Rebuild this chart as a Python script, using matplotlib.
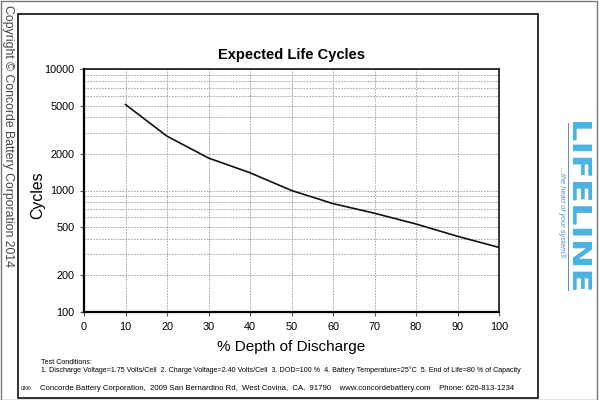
"""Expected life cycles vs depth of discharge (Concorde Lifeline datasheet)."""

import matplotlib.pyplot as plt
from matplotlib.patches import PathPatch, Rectangle
from matplotlib.textpath import TextPath
from matplotlib.font_manager import FontProperties
from matplotlib.transforms import Affine2D
from matplotlib.ticker import FixedLocator, LogLocator, NullFormatter

plt.rcParams["font.family"] = ["Liberation Sans", "DejaVu Sans"]

# data
dod = [10, 20, 30, 40, 50, 60, 70, 80, 90, 100]
cycles = [5100, 2800, 1850, 1400, 1000, 780, 650, 530, 420, 340]

x_ticks = [0, 10, 20, 30, 40, 50, 60, 70, 80, 90, 100]
y_ticks = [100, 200, 500, 1000, 2000, 5000, 10000]

W, H = 599, 400
fig = plt.figure(figsize=(W / 100, H / 100), dpi=100)


def px(x, y):
    """Pixel coords (top-left origin) -> figure fraction."""
    return x / W, 1 - y / H


# page border and inner frame
fig.patches.append(Rectangle((0.5 / W, 0.5 / H), 1 - 3 / W, 1 - 1.5 / H,
                             transform=fig.transFigure, fill=False,
                             edgecolor="#777777", linewidth=1.0))
fig.patches.append(Rectangle(px(18, 398), 520 / W, 384 / H,
                             transform=fig.transFigure, fill=False,
                             edgecolor="#222222", linewidth=1.3))

ax = fig.add_axes([84 / W, 1 - 312 / H, 415 / W, 243 / H])
ax.plot(dod, cycles, color="#111111", linewidth=1.2)

ax.set_yscale("log")
ax.set_xlim(0, 100)
ax.set_ylim(100, 10000)
ax.xaxis.set_major_locator(FixedLocator(x_ticks))
ax.yaxis.set_major_locator(FixedLocator(y_ticks))
ax.yaxis.set_minor_locator(LogLocator(base=10, subs=range(2, 10)))
ax.yaxis.set_minor_formatter(NullFormatter())
ax.set_yticklabels([str(v) for v in y_ticks])
ax.tick_params(axis="both", which="major", labelsize=7.8, length=3, width=0.8,
               color="#555555", pad=4)
ax.tick_params(axis="y", which="minor", length=0)

ax.grid(True, which="major", axis="x", linestyle=(0, (2, 1.5)), color="#999999", linewidth=0.6)
ax.grid(True, which="both", axis="y", linestyle=(0, (2, 1.5)), color="#999999", linewidth=0.6)
for side in ("left", "bottom"):
    ax.spines[side].set_linewidth(1.6)
for side in ("top", "right"):
    ax.spines[side].set_linewidth(1.1)

ax.set_title("Expected Life Cycles", fontsize=10.5, fontweight="bold", pad=7)
ax.set_xlabel("% Depth of Discharge", fontsize=11, labelpad=6)
fig.text(*px(38, 195), "Cycles", rotation=90, ha="center", va="center", fontsize=11.4)

# side copyright
fig.text(*px(8, 5), "Copyright \u00a9 Concorde Battery Corporation 2014",
         rotation=-90, ha="center", va="top", fontsize=8.8, color="#444444")

# test conditions and footer
fig.text(*px(41, 362), "Test Conditions:", fontsize=5.1, va="center")
fig.text(*px(41, 370),
         "1. Discharge Voltage=1.75 Volts/Cell  2. Charge Voltage=2.40 Volts/Cell  "
         "3. DOD=100 %  4. Battery Temperature=25\u00b0C  5. End of Life=80 % of Capacity",
         fontsize=5.1, va="center")
fig.text(*px(21, 389), "0306", fontsize=3.5, va="center")
fig.text(*px(40, 388),
         "Concorde Battery Corporation,  2009 San Bernardino Rd,  West Covina,  CA,  91790    "
         "www.concordebattery.com    Phone: 626-813-1234",
         fontsize=5.6, va="center")

# Lifeline logo: word squeezed into its box (y 122..290, x 573..592), reading downwards
logo = TextPath((0, 0), "LIFELINE", size=10,
                prop=FontProperties(family="DejaVu Sans", weight="bold"))
ext = logo.get_extents()
box_len, box_h = 168, 19
to_px = (Affine2D()
         .translate(-ext.x0, -ext.y0)
         .scale(box_len / ext.width, box_h / ext.height)
         .rotate_deg(-90)
         .translate(573, H - 122))
fig.patches.append(PathPatch(logo, transform=to_px, facecolor="#4ab3e2",
                             edgecolor="none"))
fig.text(*px(562, 212), "...the heart of your system\u00ae", rotation=-90,
         ha="center", va="center", fontsize=5.3, style="italic", color="#4a8fc0")
fig.add_artist(plt.Line2D([568 / W, 568 / W], [1 - 123 / H, 1 - 290 / H],
                          transform=fig.transFigure, color="#3a7fb8", linewidth=0.6))

fig.savefig("out.png", dpi=100)
